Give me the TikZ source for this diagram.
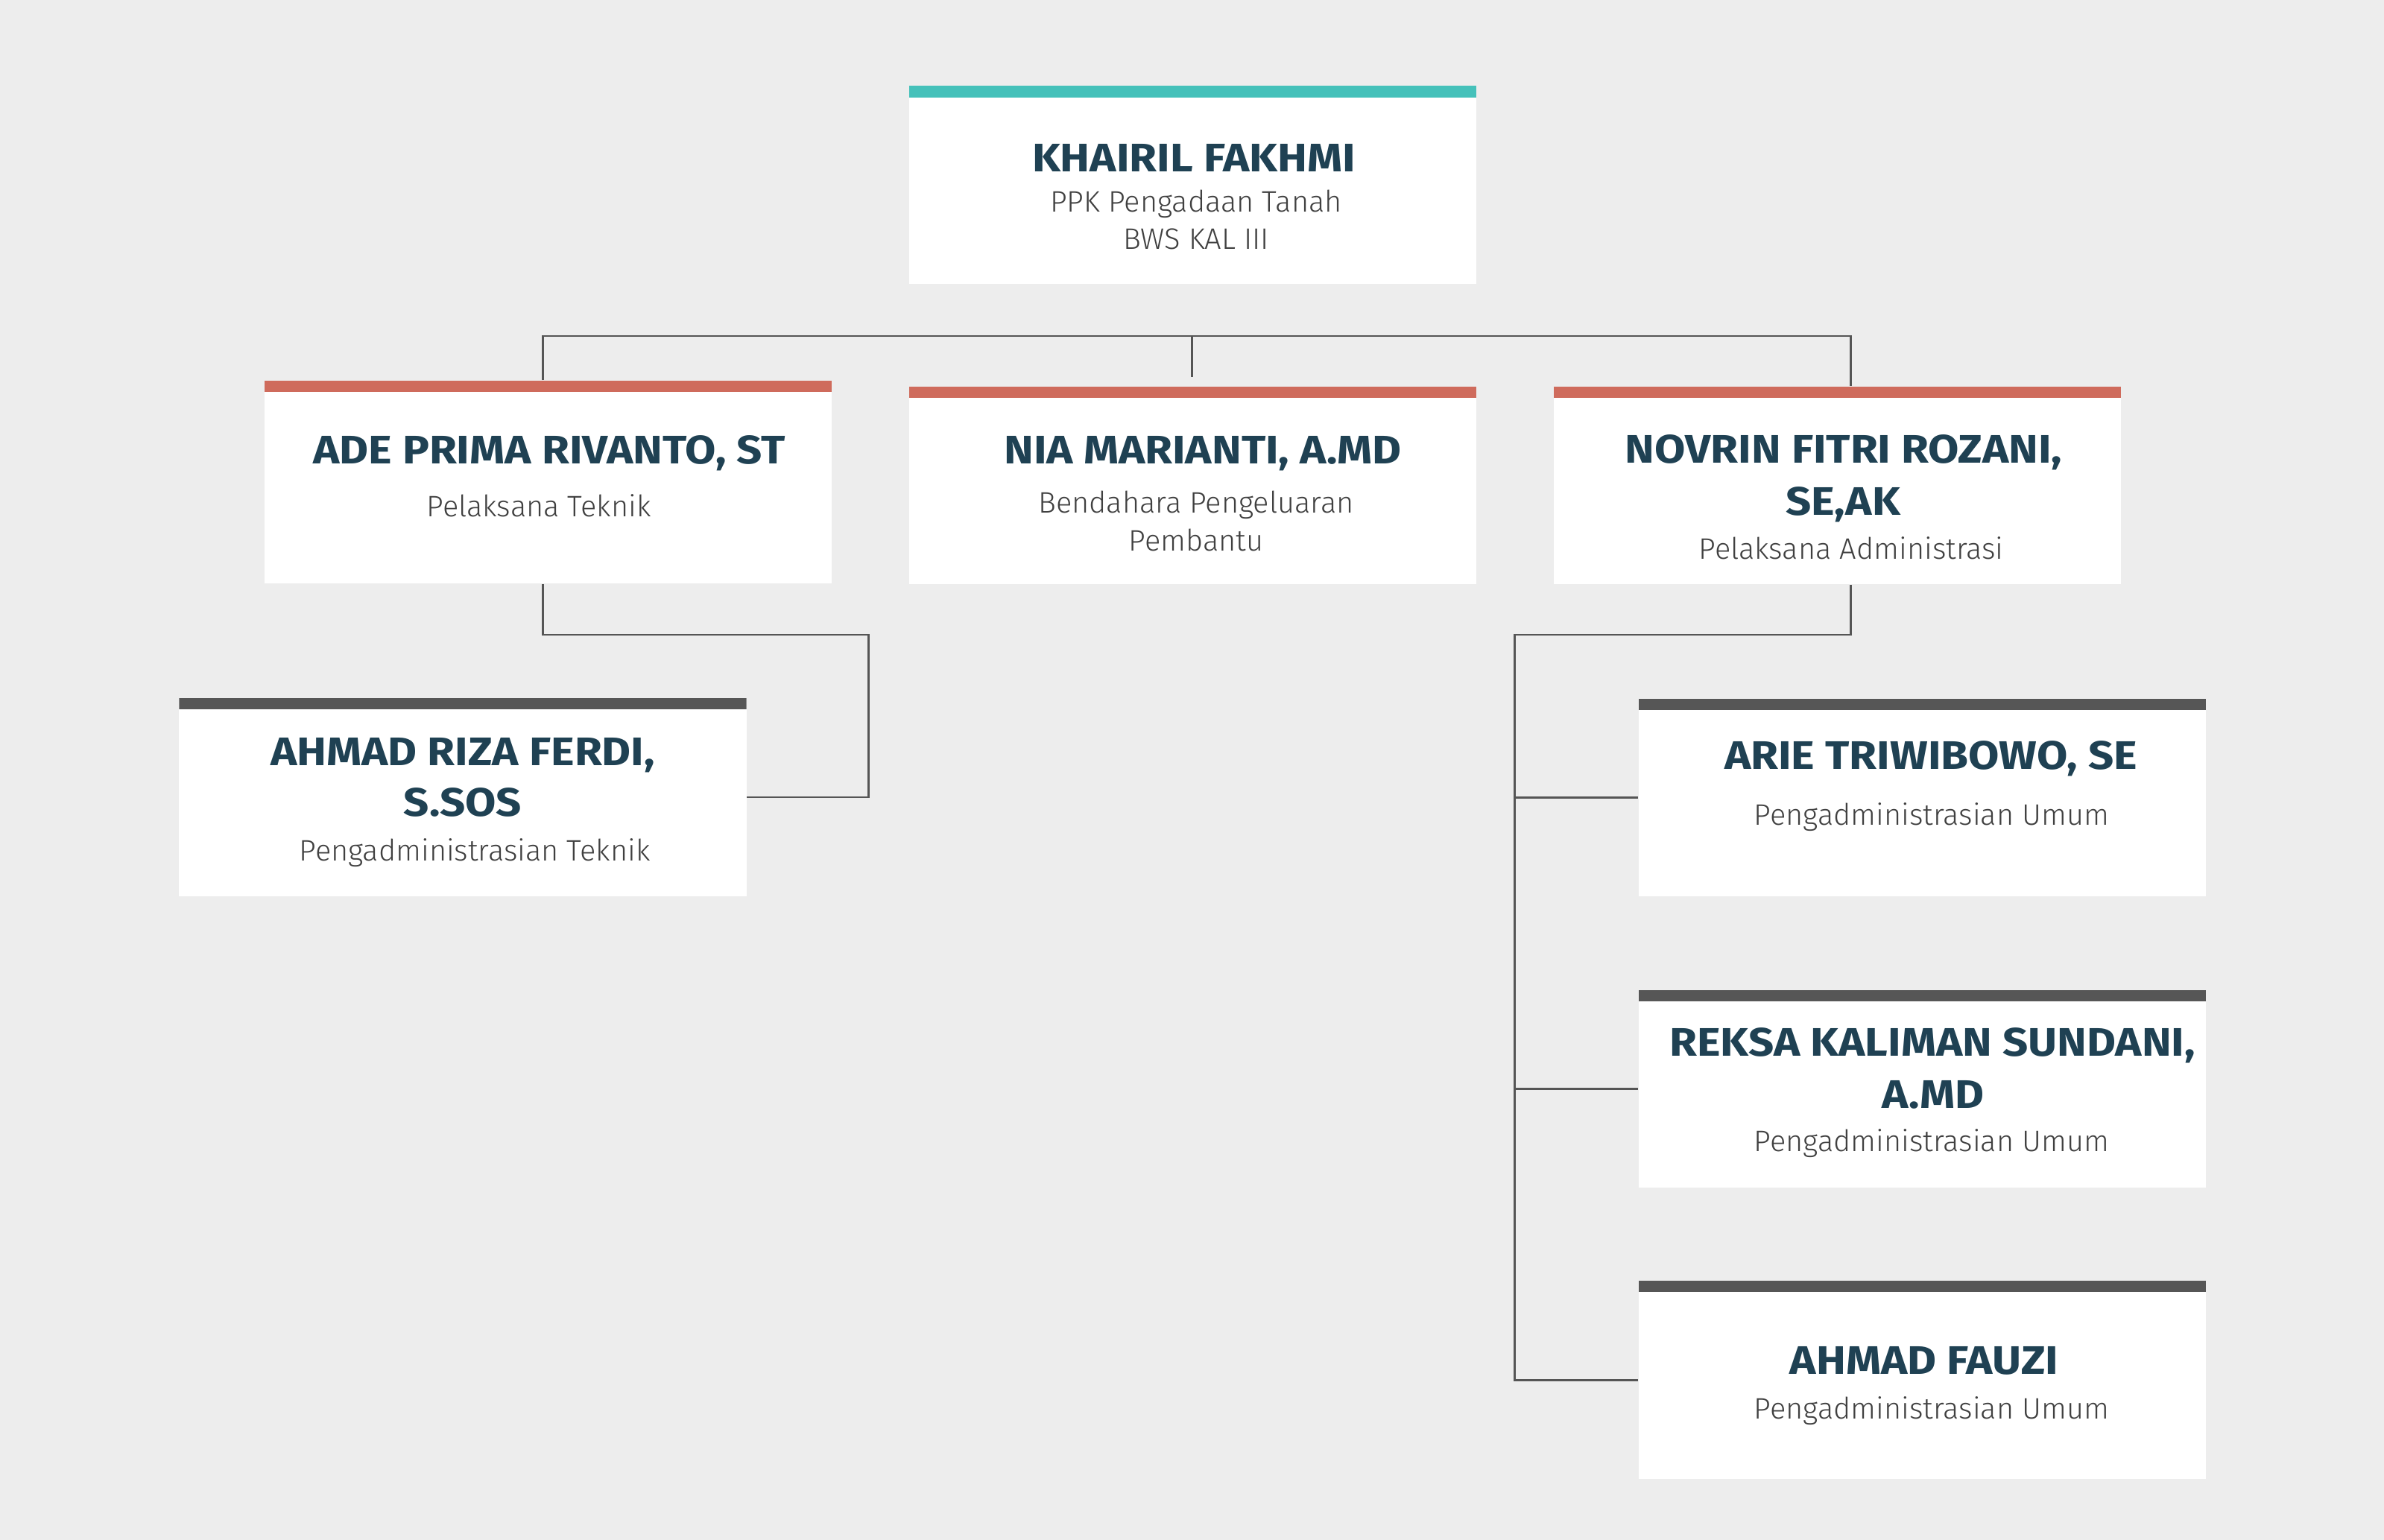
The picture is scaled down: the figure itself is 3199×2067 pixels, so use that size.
\documentclass[tikz,border=0pt]{standalone}
\usepackage{fontspec}
\setmainfont{Fira Sans}
\newfontfamily\whofont{Fira Sans}[FakeStretch=1.12]
\newfontfamily\jobfont{Fira Sans Light}
\usepackage{tikz}

\definecolor{bgGray}{HTML}{EDEDED}
\definecolor{topTeal}{HTML}{45C1BA}
\definecolor{midRed}{HTML}{CF6B5C}
\definecolor{lowGray}{HTML}{565656}
\definecolor{nameBlue}{HTML}{1F4153}
\definecolor{jobGray}{HTML}{404040}
\definecolor{lineGray}{HTML}{555555}

\tikzset{
	card/.style={rectangle, fill=white, inner sep=0pt,
		minimum width=7.61cm, minimum height=2.65cm,
		path picture={\fill[#1] (path picture bounding box.north west)
			rectangle ([yshift=-0.155cm]path picture bounding box.north east);}},
	who/.style={anchor=base, text=nameBlue, font=\whofont\bfseries\fontsize{15.2}{18}\selectfont},
	job/.style={anchor=base, text=jobGray, font=\jobfont\fontsize{11.3}{14}\selectfont},
	wire/.style={draw=lineGray, line width=0.85pt}
}

\begin{document}
\begin{tikzpicture}[x=0.01cm,y=-0.01cm]

	% background, also fixes the margins
	\fill[bgGray] (0,0) rectangle (3199,2067);

	% the cards, one per person
	\node[card=topTeal] (kf) at (1600.5,248) {};
	\node[card=midRed, minimum height=2.72cm] (ade) at (735.5,647) {};
	\node[card=midRed] (nia) at (1600.5,651.5) {};
	\node[card=midRed] (nov) at (2465.5,651.5) {};
	\node[card=lowGray, minimum height=2.66cm] (riza) at (621,1070) {};
	\node[card=lowGray] (arie) at (2579.5,1070.5) {};
	\node[card=lowGray] (reksa) at (2579.5,1461.5) {};
	\node[card=lowGray, minimum height=2.66cm] (fauzi) at (2579.5,1852) {};

	% names and jobs
	\node[who] (kf-name) at (1602,231) {KHAIRIL FAKHMI};
	\node[job] (kf-job1) at (1605,285) {PPK Pengadaan Tanah};
	\node[job] (kf-job2) at (1605,335) {BWS KAL III};

	\node[who] (ade-name) at (737,623) {ADE PRIMA RIVANTO, ST};
	\node[job] (ade-job) at (723,693) {Pelaksana Teknik};

	\node[who] (nia-name) at (1614,623) {NIA MARIANTI, A.MD};
	\node[job] (nia-job1) at (1605,689) {Bendahara Pengeluaran};
	\node[job] (nia-job2) at (1605,739) {Pembantu};

	\node[who] (nov-name1) at (2474,622) {NOVRIN FITRI ROZANI,};
	\node[who] (nov-name2) at (2473,692) {SE,AK};
	\node[job] (nov-job) at (2484,750) {Pelaksana Administrasi};

	\node[who] (riza-name1) at (621,1027) {AHMAD RIZA FERDI,};
	\node[who] (riza-name2) at (621,1095) {S.SOS};
	\node[job] (riza-job) at (637,1155) {Pengadministrasian Teknik};

	\node[who] (arie-name) at (2591,1032) {ARIE TRIWIBOWO, SE};
	\node[job] (arie-job) at (2592,1107) {Pengadministrasian Umum};

	\node[who] (reksa-name1) at (2593,1417) {REKSA KALIMAN SUNDANI,};
	\node[who] (reksa-name2) at (2594,1487) {A.MD};
	\node[job] (reksa-job) at (2592,1545) {Pengadministrasian Umum};

	\node[who] (fauzi-name) at (2582,1844) {AHMAD FAUZI};
	\node[job] (fauzi-job) at (2592,1904) {Pengadministrasian Umum};

	% bends of the connectors
	\coordinate (busL) at (728,451);
	\coordinate (busM) at (1599,451);
	\coordinate (busR) at (2483,451);
	\coordinate (busTip) at (1599,506);
	\coordinate (adeJ) at (1165,852);
	\coordinate (novJ) at (2032,852);

	% connectors
	\draw[wire] (ade.north -| busL) -- (busL) -- (busR) -- (nov.north -| busR);
	\draw[wire] (busM) -- (busTip);
	\draw[wire] (ade.south -| busL) |- (adeJ) |- (riza.east);
	\draw[wire] (nov.south -| busR) |- (novJ) |- (fauzi.west);
	\draw[wire] (novJ |- arie.west) -- (arie.west);
	\draw[wire] (novJ |- reksa.west) -- (reksa.west);

\end{tikzpicture}
\end{document}
